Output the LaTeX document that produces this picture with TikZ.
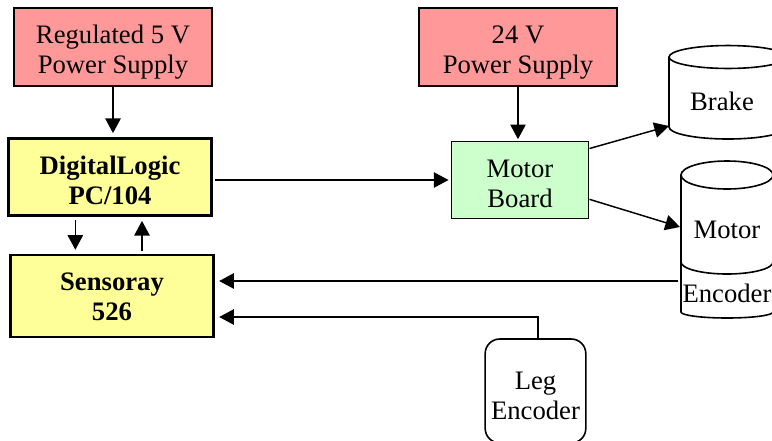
\documentclass[tikz,border=0pt]{standalone}
\usepackage{fontspec}
\setmainfont{Liberation Serif}
\usetikzlibrary{arrows.meta}
\definecolor{supplyred}{HTML}{FF9999}
\definecolor{boardyellow}{HTML}{FFFF99}
\definecolor{boardgreen}{HTML}{CCFFCC}
\newcommand{\drop}[1]{\rule{0pt}{#1}}
\begin{document}
\begin{tikzpicture}[x=0.75pt, y=-0.75pt, font=\fontsize{20}{22.5}\selectfont,
  >={Triangle[length=11pt,width=11.5pt]},
  main/.style = {draw, align=center, inner sep=0pt},
  supply/.style = {main, line width=1.3pt, fill=supplyred, minimum width=149pt, minimum height=59pt},
  board/.style = {main, line width=1.8pt, fill=boardyellow, font=\fontsize{20}{22.5}\selectfont\bfseries, minimum width=152pt},
  drum/.style = {line width=1.2pt},
  wire/.style = {->, line width=1.1pt}]
\useasboundingbox (0,0) rectangle (772,440);

\node[supply] (5v) at (113,47) {\drop{21pt}Regulated 5 V\\Power Supply};
\node[supply] (24v) at (518,47) {\drop{21pt}24 V\\Power Supply};
\node[board, minimum height=58pt] (pc) at (110,177) {\drop{18.5pt}DigitalLogic\\PC/104};
\node[board, minimum height=61.5pt] (sensor) at (112,296) {\drop{14.5pt}Sensoray\\526};
\node[main, line width=1.2pt, fill=boardgreen, minimum width=103pt, minimum height=58pt] (motorboard) at (520,180) {\drop{19pt}Motor\\Board};
\node[main, draw=none] (brake) at (722,101) {Brake};
\node[main, draw=none] (motor) at (727,230) {Motor};
\node[main, draw=none] (encoder) at (727,293) {Encoder};
\node[main, line width=1.2pt, rounded corners=11pt, minimum width=75.5pt, minimum height=78pt] (leg) at (535.5,391) {\drop{21pt}Leg\\Encoder};
\coordinate (brakein) at (669,126);
\coordinate (motorin) at (680,227);
\coordinate (motorout) at (678,281);
\coordinate (bend) at (538,317);

% cylinders
\draw[drum] (728,57) ellipse [x radius=44.25pt, y radius=8.6pt];
\draw[drum] (669,57) -- (669,127) arc [start angle=180, end angle=360, x radius=44.25pt, y radius=9pt];
\draw[drum] (727,175) ellipse [x radius=34.5pt, y radius=10.5pt];
\draw[drum] (681,175) -- (681,312) arc [start angle=180, end angle=360, x radius=34.5pt, y radius=4.5pt] -- (773,175);
\draw[drum] (681,262) arc [start angle=180, end angle=360, x radius=34.5pt, y radius=9pt];

\draw[wire, shorten >=3pt] (5v.south) -- (5v.south |- pc.north);
\draw[wire, shorten >=1pt] (24v.south) -- (24v.south |- motorboard.north);
\draw[wire, shorten <=2pt, shorten >=3pt] ([xshift=-26pt]pc.south) -- ([xshift=-26pt]pc.south |- sensor.north);
\draw[wire, shorten <=2pt, shorten >=3pt] ([xshift=22.5pt]sensor.north) -- ([xshift=22.5pt]sensor.north |- pc.south);
\draw[wire, shorten <=2pt, shorten >=1.5pt] (pc.east |- motorboard.west) -- (motorboard.west);
\draw[wire] ([yshift=-6pt]motorboard.north east) -- (brakein);
\draw[wire] ([yshift=-14.5pt]motorboard.east) -- (motorin) ;
\draw[wire, shorten >=3.5pt] (motorout) -- (sensor.east |- motorout);
\draw[wire, shorten >=3.5pt] (leg.north -| bend) -- (bend) -- (sensor.east |- bend);
\end{tikzpicture}
\end{document}
